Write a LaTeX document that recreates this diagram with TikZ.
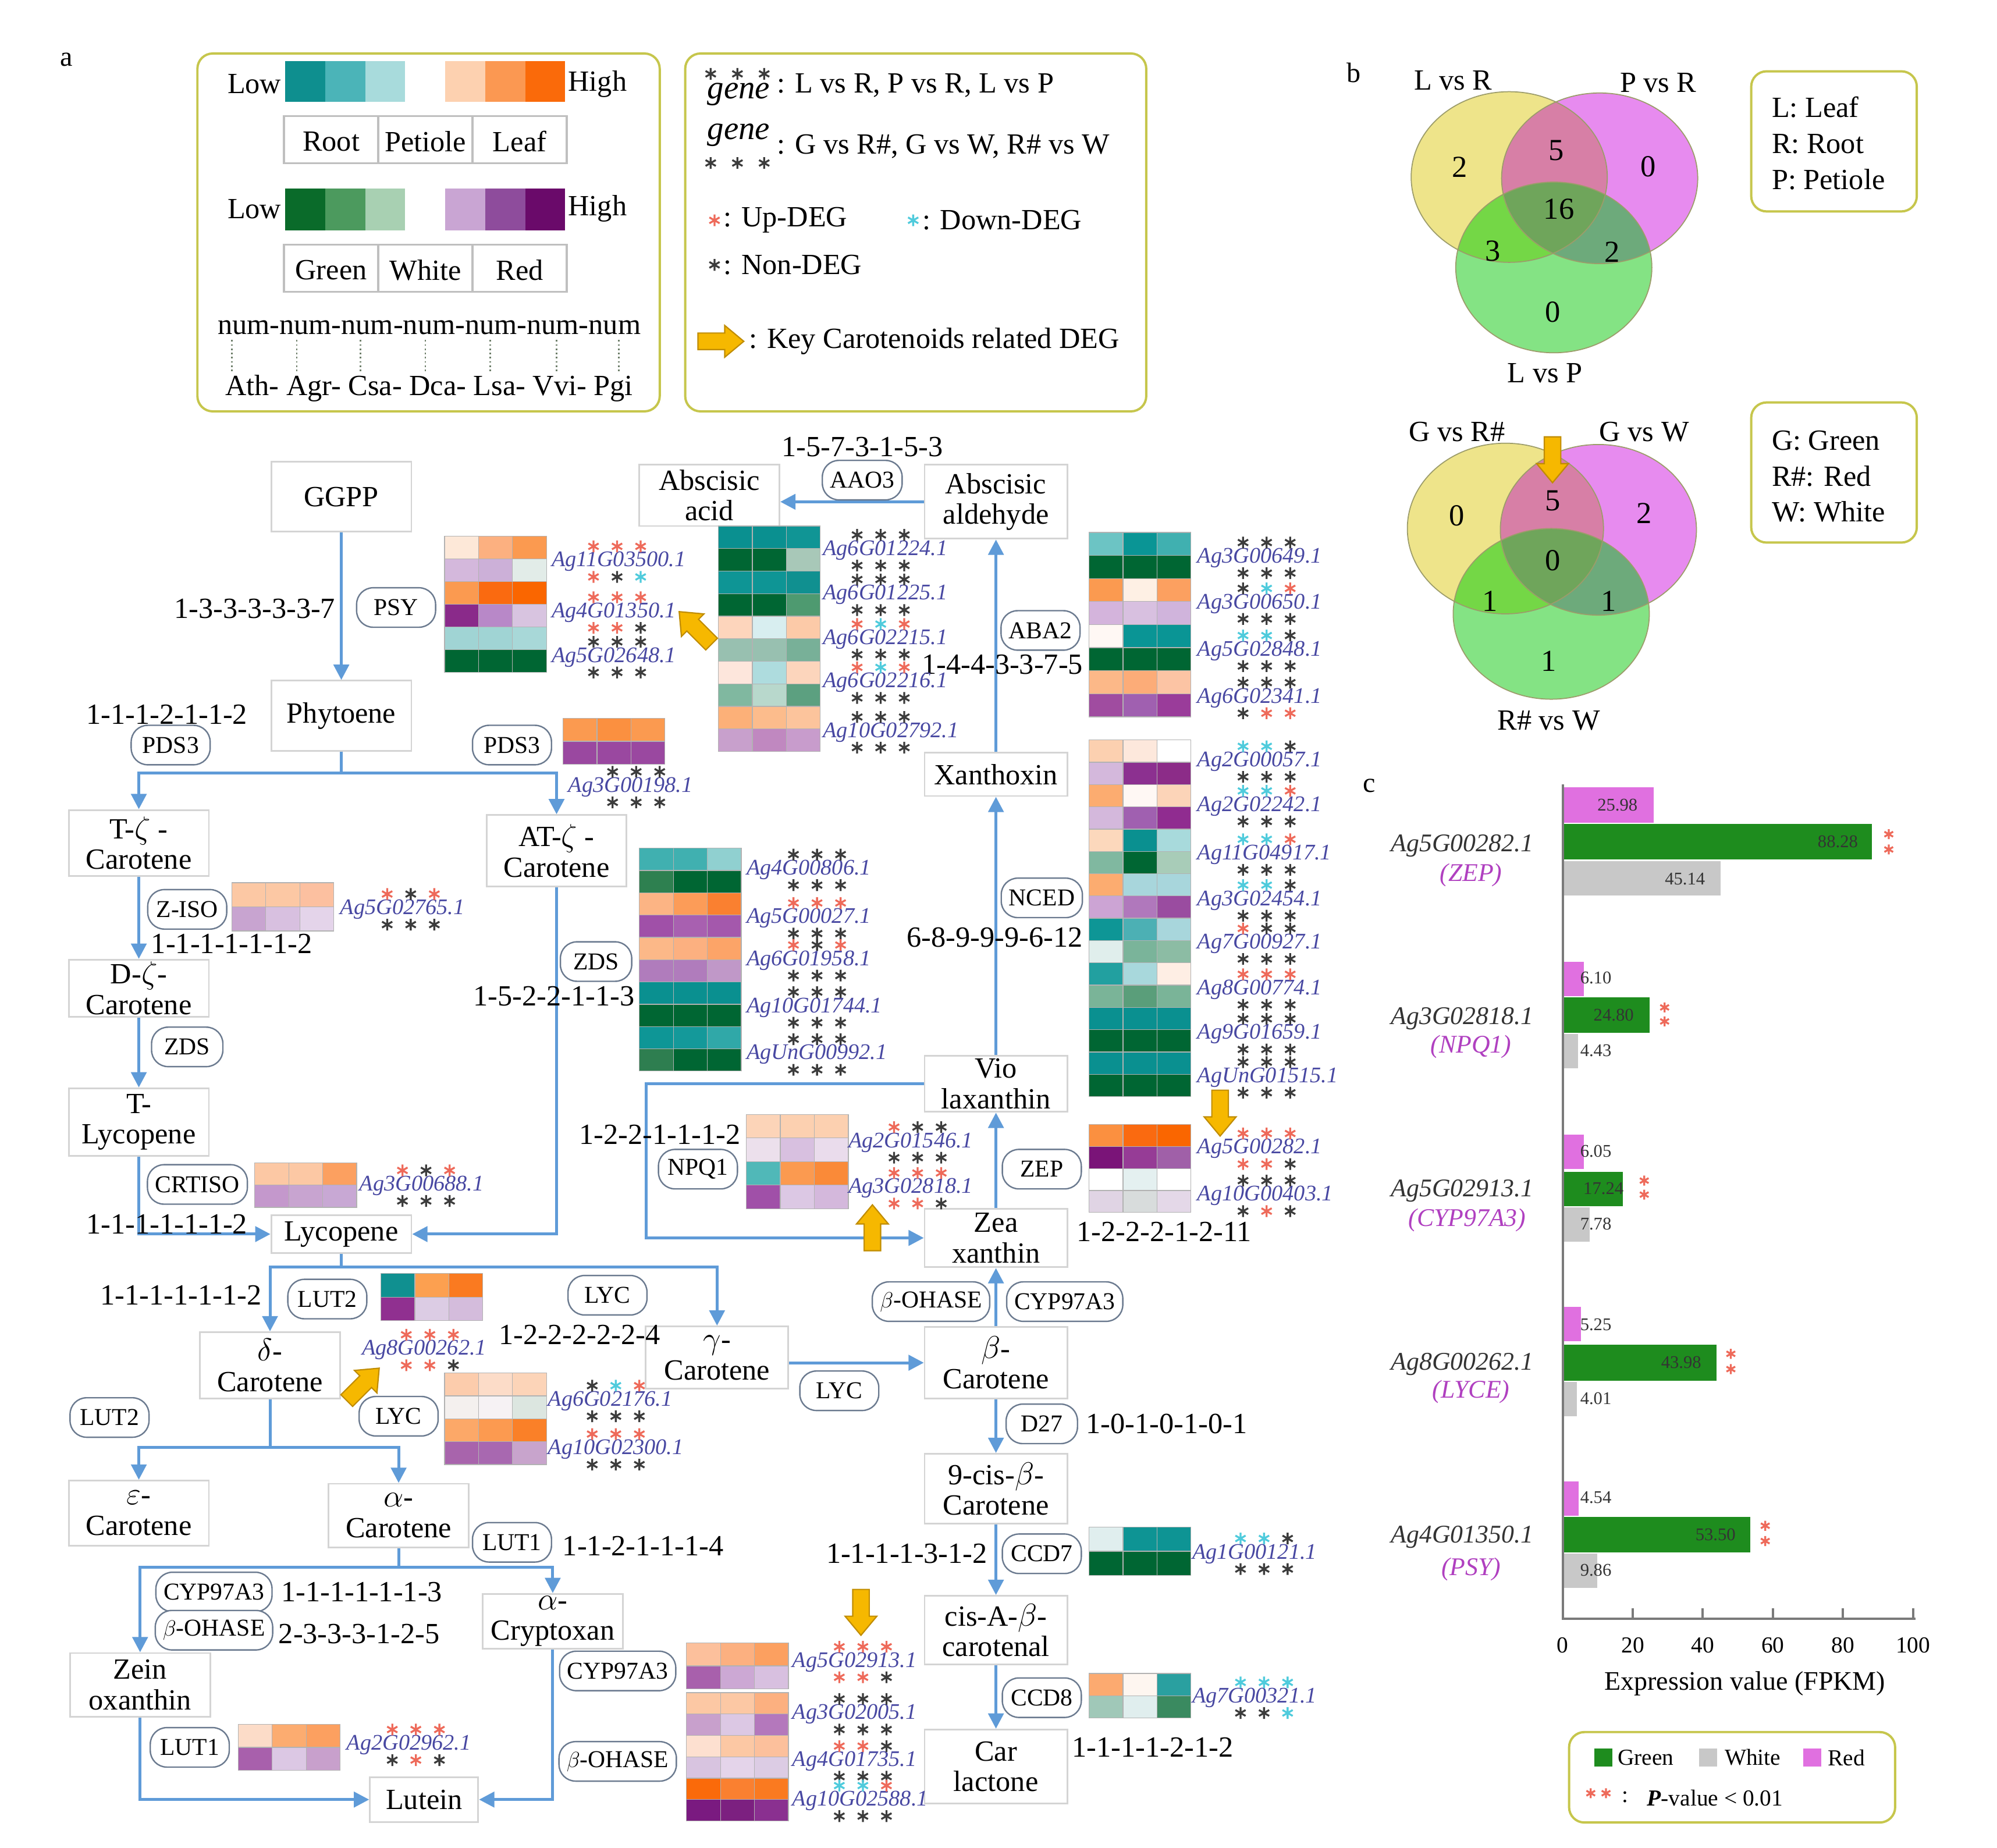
\documentclass[tikz,border=0pt]{standalone}
\usepackage{fontspec}
\setmainfont{Liberation Serif}
\usetikzlibrary{arrows.meta}
\definecolor{flowc}{HTML}{5F9BD8}
\definecolor{boxc}{HTML}{D4D4D4}
\definecolor{enzc}{HTML}{6B7A8F}
\definecolor{legc}{HTML}{C6C64C}
\definecolor{genec}{HTML}{4848A2}
\definecolor{stR}{HTML}{EE6A5A}
\definecolor{stC}{HTML}{4FCBDC}
\definecolor{stK}{HTML}{3C3C3C}
\definecolor{yarf}{HTML}{F6B800}
\definecolor{yard}{HTML}{C08C00}
\definecolor{vY}{HTML}{EEE48A}
\definecolor{vM}{HTML}{E78BEF}
\definecolor{vG}{HTML}{84E384}
\definecolor{vYM}{HTML}{D77FA6}
\definecolor{vYG}{HTML}{74D746}
\definecolor{vMG}{HTML}{6DAA7B}
\definecolor{vYMG}{HTML}{6FA55B}
\definecolor{vline}{HTML}{9C9C6A}
\definecolor{barG}{HTML}{1E8C1E}
\definecolor{barW}{HTML}{C8C8C8}
\definecolor{barR}{HTML}{E070E0}
\definecolor{magtxt}{HTML}{B040C0}
\definecolor{axc}{HTML}{7A7A7A}
\definecolor{dotc}{HTML}{6E7F6A}
\newcommand\myfs[1]{\fontsize{#1}{#1}\selectfont}
\newcommand\hmap[4]{%
  \foreach \cc [count=\ii from 0] in {#4} {%
    \pgfmathtruncatemacro\rr{floor(\ii/3)}%
    \pgfmathtruncatemacro\kk{\ii-3*\rr}%
    \edef\tmpdef{\noexpand\definecolor{hmc}{HTML}{\cc}}\tmpdef
    \filldraw[fill=hmc, draw=black!30, line width=0.6pt] ({#1+\kk*26.7},{#2+\rr*#3}) rectangle ++(26.7,#3);
  }}
\newcommand\gene[7]{%
  \node[genel, anchor=west] (#1) at (#2,#3) {#4};
  \foreach \cc [count=\ii from 0] in {#5} {\pic[color=st\cc] at ({#2+#7+\ii*18.5},{#3-12}) {ast};}
  \foreach \cc [count=\ii from 0] in {#6} {\pic[color=st\cc] at ({#2+#7+\ii*18.5},{#3+12}) {ast};}
}
\newcommand\gradbar[3]{%
  \foreach \cc [count=\ii from 0] in {#3} {%
    \edef\tmpdef{\noexpand\definecolor{hmc}{HTML}{\cc}}\tmpdef
    \fill[hmc] ({224+\ii*31.4},#1) rectangle ++(31.4,{#2-#1});
  }}
\newcommand\vennset[3]{%
  \fill[vY] #1 ellipse [x radius=77, y radius=67];
  \fill[vM] #2 ellipse [x radius=77, y radius=67];
  \fill[vG] #3 ellipse [x radius=77, y radius=67];
  \begin{scope}
    \clip #1 ellipse [x radius=77, y radius=67];
    \fill[vYM] #2 ellipse [x radius=77, y radius=67];
    \fill[vYG] #3 ellipse [x radius=77, y radius=67];
  \end{scope}
  \begin{scope}
    \clip #2 ellipse [x radius=77, y radius=67];
    \fill[vMG] #3 ellipse [x radius=77, y radius=67];
  \end{scope}
  \begin{scope}
    \clip #1 ellipse [x radius=77, y radius=67];
    \clip #2 ellipse [x radius=77, y radius=67];
    \fill[vYMG] #3 ellipse [x radius=77, y radius=67];
  \end{scope}
  \draw[vline, line width=0.8pt] #1 ellipse [x radius=77, y radius=67] #2 ellipse [x radius=77, y radius=67] #3 ellipse [x radius=77, y radius=67];
}
\newcommand\fillbar[4]{\fill[#4] (1228,#1) rectangle ({1227+2.75*#3},#2);}
\tikzset{
  ast/.pic={\draw[line width=1.5pt] (0,-4.6) -- (0,4.6) (-4,-2.3) -- (4,2.3) (-4,2.3) -- (4,-2.3);},
  yarrow/.pic={\filldraw[fill=yarf, draw=yard, line width=1pt] (-18,-6.5) -- (3,-6.5) -- (3,-12.5) -- (18,0) -- (3,12.5) -- (3,6.5) -- (-18,6.5) -- cycle;},
  flow/.style={draw=flowc, line width=2.3pt, -{Triangle[length=12pt,width=12pt]}},
  mbox/.style={draw=boxc, line width=1.3pt, fill=white, minimum width=110pt, minimum height=50pt, align=center, inner sep=1pt, font=\fontsize{23}{24}\selectfont},
  enz/.style={draw=enzc, line width=1.1pt, rounded corners=13pt, fill=white, inner xsep=6pt, inner ysep=2pt, minimum width=62pt, minimum height=31pt, font=\myfs{19}},
  numl/.style={font=\myfs{23}, inner sep=0pt},
  genel/.style={font=\myfs{17.5}\itshape, text=genec, inner sep=0pt},
  legbox/.style={draw=legc, line width=1.8pt, rounded corners=12pt},
  ltxt/.style={font=\myfs{23}, inner sep=0pt},
  vnum/.style={font=\myfs{24}, inner sep=0pt},
  bval/.style={font=\myfs{14}, text=black!80, inner sep=0pt},
  bgene/.style={font=\myfs{20}\itshape, text=black!80, inner sep=0pt},
  bgsym/.style={font=\myfs{20}\itshape, text=magtxt, inner sep=0pt},
}
\begin{document}
\begin{tikzpicture}[x=1pt,y=-1pt]
\useasboundingbox (0,0) rectangle (1568,1451);
\fill[white] (0,0) rectangle (1568,1451);

% ---------------- panel labels
\node[font=\myfs{22}] (la) at (52,47) {a};
\node[font=\myfs{22}] (lb) at (1063,57) {b};
\node[font=\myfs{22}] (lc) at (1075,617) {c};

% ---------------- legend box 1
\draw[legbox] (155,42) rectangle (518,323);
\node[ltxt, anchor=east] (low1) at (221,66) {Low};
\gradbar{48}{80}{0E8F8F,4BB4B8,A8DBDC,FFFFFF,FDD1B0,FB9852,FA6A0A}
\node[ltxt, anchor=west] (high1) at (446,66) {High};
\draw[black!25, line width=1.5pt] (223,91) rectangle (445,128) (297,91) -- (297,128) (371,91) -- (371,128);
\node[ltxt] (troot) at (260,111) {Root};
\node[ltxt] (tpet) at (334,111) {Petiole};
\node[ltxt] (tleaf) at (408,111) {Leaf};
\node[ltxt, anchor=east] (low2) at (221,164) {Low};
\gradbar{148}{181}{0A6B2A,4C9A5E,A8D0B2,FFFFFF,C9A5D3,8E4C9C,6A0A6A}
\node[ltxt, anchor=west] (high2) at (446,164) {High};
\draw[black!25, line width=1.5pt] (223,192) rectangle (445,229) (297,192) -- (297,229) (371,192) -- (371,229);
\node[ltxt] (tgreen) at (260,212) {Green};
\node[ltxt] (twhite) at (334,212) {White};
\node[ltxt] (tred) at (408,212) {Red};
\node[ltxt] (tnum) at (337,257) {num-num-num-num-num-num-num};
\foreach \xx in {182,233,283,334,385,437,486} \draw[dotc, dotted, line width=1.3pt] (\xx,267) -- (\xx,293);
\node[ltxt] (tsp) at (337,305) {Ath- Agr- Csa- Dca- Lsa- Vvi- Pgi};

% ---------------- legend box 2
\draw[legbox] (538,42) rectangle (900,323);
\node[font=\myfs{26}\itshape, inner sep=0pt] (gw1) at (580,74) {gene};
\foreach \xx in {558,579,600} \pic[color=stK] at (\xx,58) {ast};
\node[ltxt, anchor=west] (tg1) at (610,67) {: L vs R, P vs R, L vs P};
\node[font=\myfs{26}\itshape, inner sep=0pt] (gw2) at (580,106) {gene};
\foreach \xx in {558,579,600} \pic[color=stK] at (\xx,128) {ast};
\node[ltxt, anchor=west] (tg2) at (610,115) {: G vs R\#, G vs W, R\# vs W};
\pic[color=stR] at (561,173) {ast};
\node[ltxt, anchor=west] (tup) at (568,173) {: Up-DEG};
\pic[color=stC] at (717,173) {ast};
\node[ltxt, anchor=west] (tdown) at (724,173) {: Down-DEG};
\pic[color=stK] at (561,208) {ast};
\node[ltxt, anchor=west] (tnon) at (568,208) {: Non-DEG};
\pic at (566,268) {yarrow};
\node[ltxt, anchor=west] (tkey) at (588,268) {: Key Carotenoids related DEG};

% ---------------- panel b
\vennset{(1185,139)}{(1256,140)}{(1220,210)}
\node[ltxt] (v1a) at (1141,63) {L vs R};
\node[ltxt] (v1b) at (1302,65) {P vs R};
\node[ltxt] (v1c) at (1213,293) {L vs P};
\node[vnum] (n1a) at (1146,131) {2};
\node[vnum] (n1b) at (1222,118) {5};
\node[vnum] (n1c) at (1294,131) {0};
\node[vnum] (n1d) at (1224,164) {16};
\node[vnum] (n1e) at (1172,197) {3};
\node[vnum] (n1f) at (1266,198) {2};
\node[vnum] (n1g) at (1219,245) {0};
\vennset{(1182,415)}{(1255,416)}{(1218,482)}
\node[ltxt] (v2a) at (1144,339) {G vs R\#};
\node[ltxt] (v2b) at (1291,339) {G vs W};
\node[ltxt] (v2c) at (1216,566) {R\# vs W};
\node[vnum] (n2a) at (1144,405) {0};
\node[vnum] (n2b) at (1219,393) {5};
\node[vnum] (n2c) at (1291,403) {2};
\node[vnum] (n2d) at (1219,440) {0};
\node[vnum] (n2e) at (1170,472) {1};
\node[vnum] (n2f) at (1263,472) {1};
\node[vnum] (n2g) at (1216,519) {1};
\pic[rotate=-90] at (1219,361) {yarrow};
\draw[legbox] (1375,56) rectangle (1505,166);
\node[ltxt, anchor=west] (bl1) at (1391,84) {L: Leaf};
\node[ltxt, anchor=west] (bl2) at (1391,113) {R: Root};
\node[ltxt, anchor=west] (bl3) at (1391,141) {P: Petiole};
\draw[legbox] (1375,316) rectangle (1505,426);
\node[ltxt, anchor=west] (bl4) at (1391,346) {G: Green};
\node[ltxt, anchor=west] (bl5) at (1391,374) {R\#: Red};
\node[ltxt, anchor=west] (bl6) at (1391,402) {W: White};

% ---------------- panel c (bars)
\fillbar{618}{646}{25.98}{barR}
\fillbar{647}{675}{88.28}{barG}
\fillbar{676}{703}{45.14}{barW}
\fillbar{755}{782}{6.10}{barR}
\fillbar{783}{811}{24.80}{barG}
\fillbar{812}{839}{4.43}{barW}
\fillbar{891}{918}{6.05}{barR}
\fillbar{920}{947}{17.24}{barG}
\fillbar{948}{975}{7.78}{barW}
\fillbar{1026}{1053}{5.25}{barR}
\fillbar{1056}{1084}{43.98}{barG}
\fillbar{1085}{1112}{4.01}{barW}
\fillbar{1163}{1190}{4.54}{barR}
\fillbar{1191}{1219}{53.50}{barG}
\fillbar{1220}{1247}{9.86}{barW}
\node[bval] (bv1) at (1270,632) {25.98};
\node[bval] (bv2) at (1443,661) {88.28};
\node[bval] (bv3) at (1323,690) {45.14};
\node[bval] (bv4) at (1253,768) {6.10};
\node[bval] (bv5) at (1267,797) {24.80};
\node[bval] (bv6) at (1253,825) {4.43};
\node[bval] (bv7) at (1253,904) {6.05};
\node[bval] (bv8) at (1259,933) {17.24};
\node[bval] (bv9) at (1253,961) {7.78};
\node[bval] (bv10) at (1253,1040) {5.25};
\node[bval] (bv11) at (1320,1070) {43.98};
\node[bval] (bv12) at (1253,1098) {4.01};
\node[bval] (bv13) at (1253,1176) {4.54};
\node[bval] (bv14) at (1347,1205) {53.50};
\node[bval] (bv15) at (1253,1233) {9.86};
\foreach \xx/\yy in {1483/655,1483/667,1307/791,1307/802,1291/927,1291/938,1359/1063,1359/1075,1386/1198,1386/1210}
  \pic[color=stR, scale=0.85] at (\xx,\yy) {ast};
\draw[axc, line width=1.8pt] (1227,616) -- (1227,1271) -- (1504,1271);
\foreach \t in {20,40,60,80,100} \draw[axc, line width=1.8pt] ({1227+2.75*\t},1271) -- ++(0,-8);
\foreach \t in {0,20,40,60,80,100} \node[font=\myfs{18}, inner sep=0pt] (tk\t) at ({1227+2.75*\t},1292) {\t};
\node[font=\myfs{21}, inner sep=0pt] (axt) at (1370,1322) {Expression value (FPKM)};
\node[bgene] (bg1) at (1148,664) {Ag5G00282.1};
\node[bgsym] (bs1) at (1155,687) {(ZEP)};
\node[bgene] (bg2) at (1148,800) {Ag3G02818.1};
\node[bgsym] (bs2) at (1155,822) {(NPQ1)};
\node[bgene] (bg3) at (1148,935) {Ag5G02913.1};
\node[bgsym] (bs3) at (1152,958) {(CYP97A3)};
\node[bgene] (bg4) at (1148,1071) {Ag8G00262.1};
\node[bgsym] (bs4) at (1155,1093) {(LYCE)};
\node[bgene] (bg5) at (1148,1207) {Ag4G01350.1};
\node[bgsym] (bs5) at (1155,1232) {(PSY)};
\draw[legbox] (1232,1360) rectangle (1488,1431);
\fill[barG] (1252,1373) rectangle (1266,1387);
\node[font=\myfs{18}, inner sep=0pt, anchor=west] (lgg) at (1270,1380) {Green};
\fill[barW] (1334,1373) rectangle (1348,1387);
\node[font=\myfs{18}, inner sep=0pt, anchor=west] (lgw) at (1354,1380) {White};
\fill[barR] (1416,1373) rectangle (1430,1387);
\node[font=\myfs{18}, inner sep=0pt, anchor=west] (lgr) at (1435,1380) {Red};
\pic[color=stR, scale=0.85] at (1249,1408) {ast};
\pic[color=stR, scale=0.85] at (1261,1408) {ast};
\node[font=\myfs{18}, inner sep=0pt] (lgc) at (1276,1411) {:};
\node[font=\myfs{18}, inner sep=0pt, anchor=west] (lgp) at (1293,1412) {\textbf{\textit{P}}-value < 0.01};

% ---------------- panel a: metabolites
\node[mbox, minimum height=55pt] (ggpp) at (268,390) {GGPP};
\node[mbox, minimum height=55pt] (phy) at (268,562) {Phytoene};
\node[mbox, minimum height=52pt] (tz) at (109,662) {T-$\zeta$ -\\Carotene};
\node[mbox, minimum height=56pt] (atz) at (437,668) {AT-$\zeta$ -\\Carotene};
\node[mbox, minimum height=45pt] (dz) at (109,776) {D-$\zeta$-\\Carotene};
\node[mbox, minimum height=53pt] (tlyc) at (109,881) {T-\\Lycopene};
\node[mbox, minimum height=30pt] (lyc) at (268,969) {Lycopene};
\node[mbox, minimum height=52pt] (delta) at (212,1072) {$\delta$-\\Carotene};
\node[mbox, minimum width=112pt, minimum height=49pt] (gamma) at (563,1066) {$\gamma$-\\Carotene};
\node[mbox, minimum width=112pt, minimum height=56pt] (beta) at (782,1070) {$\beta$-\\Carotene};
\node[mbox, minimum height=51pt] (eps) at (109,1188) {$\varepsilon$-\\Carotene};
\node[mbox, minimum height=50pt] (alpha) at (313,1190) {$\alpha$-\\Carotene};
\node[mbox, minimum height=43pt] (acry) at (434,1273) {$\alpha$-\\Cryptoxan};
\node[mbox, minimum height=50pt] (zein) at (110,1323) {Zein\\oxanthin};
\node[mbox, minimum width=85pt, minimum height=35pt] (lut) at (333,1413) {Lutein};
\node[mbox, minimum width=112pt, minimum height=55pt] (cis9) at (782,1169) {9-cis-$\beta$-\\Carotene};
\node[mbox, minimum width=112pt, minimum height=54pt] (cisa) at (782,1280) {cis-A-$\beta$-\\carotenal};
\node[mbox, minimum width=112pt, minimum height=58pt] (carl) at (782,1387) {Car\\lactone};
\node[mbox, minimum width=112pt, minimum height=46pt] (zea) at (782,972) {Zea\\xanthin};
\node[mbox, minimum width=112pt, minimum height=44pt] (vio) at (782,851) {Vio\\laxanthin};
\node[mbox, minimum width=112pt, minimum height=34pt] (xan) at (782,608) {Xanthoxin};
\node[mbox, minimum width=112pt, minimum height=58pt] (abald) at (782,394) {Abscisic\\aldehyde};
\node[mbox, minimum height=48pt] (abac) at (557,389) {Abscisic\\acid};

\draw[flow] (ggpp) -- (phy);
\draw[flow] (phy.south) -- ++(0,17) -| (tz.north);
\draw[flow] (phy.south) -- ++(0,17) -| (atz.north);
\draw[flow] (tz) -- (dz);
\draw[flow] (dz) -- (tlyc);
\draw[flow] (tlyc.south) |- (lyc.west);
\draw[flow] (atz.south) |- (lyc.east);
\draw[flow] (lyc.south) -- ++(0,10) -| (delta.north);
\draw[flow] (lyc.south) -- ++(0,10) -| (gamma.north);
\draw[flow] (delta.south) -- ++(0,38) -| (eps.north);
\draw[flow] (delta.south) -- ++(0,38) -| (alpha.north);
\draw[flow] (alpha.south) -- ++(0,15) -| (zein.north);
\draw[flow] (alpha.south) -- ++(0,15) -| (acry.north);
\draw[flow] (zein.south) |- (lut.west);
\draw[flow] (acry.south) |- (lut.east);
\draw[flow] (gamma.east |- beta.west) -- (beta.west);
\draw[flow] (beta) -- (zea);
\draw[flow] (zea) -- (vio);
\draw[flow] (vio) -- (xan);
\draw[flow] (xan) -- (abald);
\draw[flow] (abald.west) -- (abald.west -| abac.east);
\draw[flow] (beta) -- (cis9);
\draw[flow] (cis9) -- (cisa);
\draw[flow] (cisa) -- (carl);
\draw[flow] (vio.west) -- ++(-218,0) |- (zea.west);

% enzymes
\node[enz] (psy) at (311,477) {PSY};
\node[enz] (pds3a) at (134,585) {PDS3};
\node[enz] (pds3b) at (402,585) {PDS3};
\node[enz] (ziso) at (147,714) {Z-ISO};
\node[enz, minimum width=56pt] (zdsa) at (147,822) {ZDS};
\node[enz] (crtiso) at (155,930) {CRTISO};
\node[enz, minimum width=56pt] (zdsb) at (468,755) {ZDS};
\node[enz] (npq1) at (548,918) {NPQ1};
\node[enz] (lut2a) at (257,1020) {LUT2};
\node[enz] (lyca) at (477,1017) {LYC};
\node[enz] (lycb) at (313,1112) {LYC};
\node[enz] (lut2b) at (86,1113) {LUT2};
\node[enz] (lycc) at (659,1092) {LYC};
\node[enz] (bohasea) at (731,1022) {$\beta$-OHASE};
\node[enz] (cypa) at (836,1022) {CYP97A3};
\node[enz, minimum width=56pt] (d27) at (818,1118) {D27};
\node[enz] (ccd7) at (818,1220) {CCD7};
\node[enz] (ccd8) at (818,1333) {CCD8};
\node[enz] (lut1a) at (402,1211) {LUT1};
\node[enz] (cypb) at (168,1250) {CYP97A3};
\node[enz] (bohaseb) at (168,1280) {$\beta$-OHASE};
\node[enz] (lut1b) at (149,1372) {LUT1};
\node[enz] (cypc) at (485,1312) {CYP97A3};
\node[enz] (bohasec) at (485,1383) {$\beta$-OHASE};
\node[enz] (aao3) at (677,377) {AAO3};
\node[enz] (aba2) at (817,495) {ABA2};
\node[enz] (nced) at (818,705) {NCED};
\node[enz] (zep) at (818,918) {ZEP};

% number labels
\node[numl] (c1) at (200,478) {1-3-3-3-3-3-7};
\node[numl] (c2) at (131,561) {1-1-1-2-1-1-2};
\node[numl] (c3) at (182,741) {1-1-1-1-1-1-2};
\node[numl] (c4) at (435,782) {1-5-2-2-1-1-3};
\node[numl] (c5) at (131,961) {1-1-1-1-1-1-2};
\node[numl] (c6) at (142,1017) {1-1-1-1-1-1-2};
\node[numl] (c7) at (455,1048) {1-2-2-2-2-2-4};
\node[numl] (c8) at (505,1214) {1-1-2-1-1-1-4};
\node[numl] (c9) at (284,1250) {1-1-1-1-1-1-3};
\node[numl] (c10) at (282,1283) {2-3-3-3-1-2-5};
\node[numl] (c11) at (677,351) {1-5-7-3-1-5-3};
\node[numl] (c12) at (787,522) {1-4-4-3-3-7-5};
\node[numl] (c13) at (781,736) {6-8-9-9-9-6-12};
\node[numl] (c14) at (518,891) {1-2-2-1-1-1-2};
\node[numl] (c15) at (914,967) {1-2-2-2-1-2-11};
\node[numl] (c16) at (916,1118) {1-0-1-0-1-0-1};
\node[numl] (c17) at (712,1220) {1-1-1-1-3-1-2};
\node[numl] (c18) at (905,1372) {1-1-1-1-2-1-2};

% heatmaps
\hmap{349}{421}{17.8}{FDE8D8,FCB080,FB9A50,D4B8DC,CCB0D8,E2ECE8,FB9A50,FA6A10,FA6600,8A2A8A,B888C8,D8C4E0,A0D4D4,A0D4D4,A8D8D8,006633,006633,006633}
\hmap{564}{413}{17.7}{0A9090,0A9090,109595,006633,006633,A8C8B8,0E9595,0E9595,109090,006633,006633,4E9A70,FDD5BC,D8EEF0,FCCAA8,98C0B0,98C0B0,78B098,FDE6DC,AEDCDE,FCD5BC,80B8A0,B8D8CC,5CA080,FCB078,FCBC8C,FCC49C,C8A0CC,C088C0,C89CCC}
\hmap{855}{418}{18.1}{6CC4C4,0A9595,40B0B0,006633,006633,006633,FB9A50,FEF0E4,FCA060,D4B4DC,D8C0E0,D0B4DC,FFF8F4,0A9595,0A9595,006633,006633,006633,FCB888,FCAC78,FCC4A4,A04CA0,A060B0,9A3C9A}
\hmap{855}{581}{17.5}{FCD0B0,FDE8DC,FFFFFF,D4B8DC,8C3090,8C2C88,FCAC70,FFF8F4,FCD4B8,D4B8DC,A060B0,902C90,FCD8BC,0A9090,A8DADC,80B8A0,006633,A8CCB8,FCAC70,A8D6DC,A8D6DC,CCA4D4,B078BC,9A4CA0,0E9696,4CB0B4,A8D6DC,E0EEEC,7AB49A,8CBCA4,22A0A0,A8D8DC,FEEEE4,7AB498,5A9E7A,7AB498,0A9090,0A9090,0A9090,006633,006633,006633,0A9090,0A9090,0A9090,006633,006633,006633}
\hmap{855}{883}{17.25}{FB9040,FA6A10,FA6600,7A1478,963C96,A060A8,FFFFFF,E4F0F0,FFFFFF,E0D4E4,D8DCDC,E4D8E8}
\hmap{442}{564}{18}{FB9A50,FB9040,FB9A50,9A48A0,9A48A0,9A48A0}
\hmap{502}{666}{17.5}{40B0B0,40B0B0,90D0D0,2E8050,006633,006633,FCB484,FC9C58,FA8030,A050A8,A860B0,A458AC,FCB888,FCB080,FCA468,B07CBC,B07CBC,C098C8,0A9090,0A9090,0A9090,006633,006633,006633,0E9696,14999A,30A8A8,2E7E50,006633,006633}
\hmap{586}{875}{18.5}{FCD4B8,FCD0B0,FCD0B0,ECE0EC,D8C0E0,EADCEC,50B8B8,FB9A50,FA8A38,A050A8,DCC8E4,D4B8DC}
\hmap{182}{693}{19}{FCC8A4,FCC8A4,FCC0A0,C8A4D0,D8C0E0,E4D4EA}
\hmap{200}{913}{17.5}{FCC8A4,FCC8A4,FCA060,C498CC,C8A4D0,C8A8D4}
\hmap{299}{1000}{18.5}{109090,FCA050,FA7A20,903090,DCCCE4,D4BCDC}
\hmap{349}{1078}{18}{FCCCAC,FCDCC8,FCD4B8,F4F0EE,F6F2F4,DCE6E0,FCA868,FC9A50,FA8028,A864AC,A868B0,C8A4CC}
\hmap{187}{1354}{18}{FCDCC8,FCAC70,FCA060,A860AC,DCC8E4,C8A0CC}
\hmap{539}{1290}{18}{FCC09C,FCB080,FCA060,A860AC,CCA8D4,D8C0E0}
\hmap{539}{1329}{16.8}{FCC8A4,FCC8A4,FCB080,C8A0CC,DCC8E4,B478BC,FDE0D0,FCC8A4,FCC09C,D8C4E0,E4D4EA,DCCCE4,FA6A0A,FA8030,FA7A20,7A1A80,7C2080,8A3090}
\hmap{855}{1199}{19}{E0EEEE,0E9494,0E9494,006633,006633,006633}
\hmap{855}{1314}{17.5}{FCAA70,FEF6F0,2AA0A0,A0C8B8,E0EEEE,3A8A60}

% gene labels with DEG stars
\gene{g1}{433}{441}{Ag11G03500.1}{R,R,R}{R,K,C}{33}
\gene{g2}{433}{481}{Ag4G01350.1}{R,R,R}{R,R,K}{33}
\gene{g3}{433}{516}{Ag5G02648.1}{K,K,K}{K,K,K}{33}
\gene{g4}{646}{432}{Ag6G01224.1}{K,K,K}{K,K,K}{27}
\gene{g5}{646}{467}{Ag6G01225.1}{K,K,K}{K,K,K}{27}
\gene{g6}{646}{502}{Ag6G02215.1}{R,C,R}{K,K,K}{27}
\gene{g7}{646}{536}{Ag6G02216.1}{R,C,R}{K,K,K}{27}
\gene{g8}{646}{575}{Ag10G02792.1}{K,K,K}{K,K,K}{27}
\gene{g9}{940}{438}{Ag3G00649.1}{K,K,K}{K,K,K}{36}
\gene{g10}{940}{474}{Ag3G00650.1}{K,C,R}{K,K,K}{36}
\gene{g11}{940}{511}{Ag5G02848.1}{C,C,K}{K,K,K}{36}
\gene{g12}{940}{548}{Ag6G02341.1}{K,K,K}{K,R,R}{36}
\gene{g13}{940}{598}{Ag2G00057.1}{C,C,K}{K,K,K}{36}
\gene{g14}{940}{633}{Ag2G02242.1}{C,C,R}{K,K,K}{36}
\gene{g15}{940}{671}{Ag11G04917.1}{C,C,R}{K,K,K}{36}
\gene{g16}{940}{707}{Ag3G02454.1}{C,C,K}{K,K,K}{36}
\gene{g17}{940}{741}{Ag7G00927.1}{R,K,K}{K,K,K}{36}
\gene{g18}{940}{777}{Ag8G00774.1}{R,R,R}{K,K,K}{36}
\gene{g19}{940}{812}{Ag9G01659.1}{K,K,K}{K,K,K}{36}
\gene{g20}{940}{846}{AgUnG01515.1}{K,K,K}{K,K,K}{36}
\gene{g21}{940}{902}{Ag5G00282.1}{R,R,R}{R,R,K}{36}
\gene{g22}{940}{939}{Ag10G00403.1}{K,K,K}{K,R,K}{36}
\gene{g23}{446}{618}{Ag3G00198.1}{K,K,K}{K,K,K}{35}
\gene{g24}{586}{683}{Ag4G00806.1}{K,K,K}{K,K,K}{37}
\gene{g25}{586}{721}{Ag5G00027.1}{R,R,R}{K,K,K}{37}
\gene{g26}{586}{754}{Ag6G01958.1}{R,K,R}{K,K,K}{37}
\gene{g27}{586}{791}{Ag10G01744.1}{K,K,K}{K,K,K}{37}
\gene{g28}{586}{828}{AgUnG00992.1}{K,K,K}{K,K,K}{37}
\gene{g29}{666}{897}{Ag2G01546.1}{R,K,K}{K,K,K}{36}
\gene{g30}{666}{933}{Ag3G02818.1}{R,R,R}{R,R,K}{36}
\gene{g31}{267}{714}{Ag5G02765.1}{R,K,R}{K,K,K}{37}
\gene{g32}{282}{931}{Ag3G00688.1}{R,K,R}{K,K,K}{34}
\gene{g33}{284}{1060}{Ag8G00262.1}{R,R,R}{R,R,K}{35}
\gene{g34}{430}{1100}{Ag6G02176.1}{K,C,R}{K,K,K}{35}
\gene{g35}{430}{1138}{Ag10G02300.1}{R,R,R}{K,K,K}{35}
\gene{g36}{272}{1370}{Ag2G02962.1}{R,R,R}{K,R,K}{36}
\gene{g37}{622}{1305}{Ag5G02913.1}{R,R,R}{R,R,K}{37}
\gene{g38}{622}{1346}{Ag3G02005.1}{K,K,K}{K,K,K}{37}
\gene{g39}{622}{1383}{Ag4G01735.1}{R,R,K}{K,K,K}{37}
\gene{g40}{622}{1414}{Ag10G02588.1}{C,C,R}{K,K,K}{37}
\gene{g41}{936}{1220}{Ag1G00121.1}{C,C,K}{K,K,K}{38}
\gene{g42}{936}{1333}{Ag7G00321.1}{C,C,C}{K,K,C}{38}

% key DEG arrows
\pic[rotate=135] at (546,493) {yarrow};
\pic[rotate=45] at (285,1087) {yarrow};
\pic[rotate=90] at (685,964) {yarrow};
\pic[rotate=-90] at (958,874) {yarrow};
\pic[rotate=-90] at (676,1266) {yarrow};
\end{tikzpicture}
\end{document}
